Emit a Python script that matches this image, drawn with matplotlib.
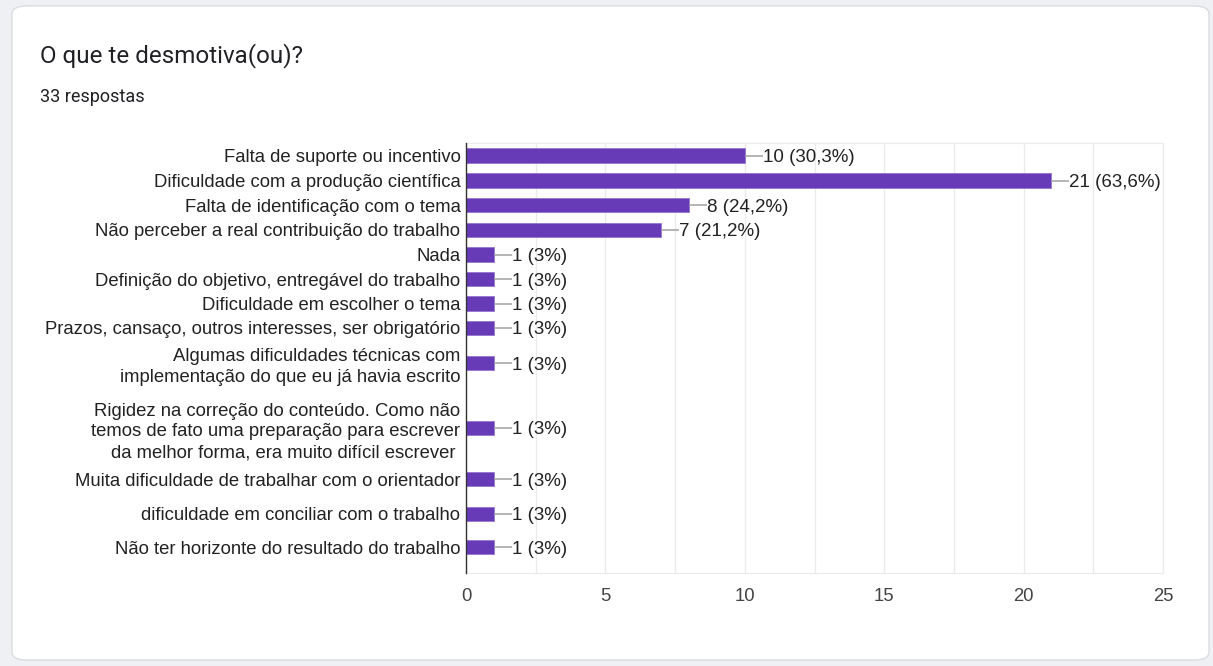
import matplotlib
matplotlib.use("Agg")
import matplotlib.pyplot as plt
from matplotlib.patches import FancyBboxPatch

title = "O que te desmotiva(ou)?"
subtitle = "33 respostas"
categories = [
    "Falta de suporte ou incentivo",
    "Dificuldade com a produção científica",
    "Falta de identificação com o tema",
    "Não perceber a real contribuição do trabalho",
    "Nada",
    "Definição do objetivo, entregável do trabalho",
    "Dificuldade em escolher o tema",
    "Prazos, cansaço, outros interesses, ser obrigatório",
    "Algumas dificuldades técnicas com\nimplementação do que eu já havia escrito",
    "Rigidez na correção do conteúdo. Como não\ntemos de fato uma preparação para escrever\nda melhor forma, era muito difícil escrever ",
    "Muita dificuldade de trabalhar com o orientador",
    "dificuldade em conciliar com o trabalho",
    "Não ter horizonte do resultado do trabalho",
]
counts = [10, 21, 8, 7, 1, 1, 1, 1, 1, 1, 1, 1, 1]
pct_labels = ["30,3%", "63,6%", "24,2%", "21,2%", "3%", "3%", "3%", "3%", "3%", "3%", "3%", "3%", "3%"]
xticks = [0, 5, 10, 15, 20, 25]

# layout (pixel rows of each bar centre, top-down)
W, H = 1213, 666
rows = [155.5, 180.5, 205, 230, 254.5, 279, 303.5, 328, 363, 428, 479, 514, 547]
ax_top, ax_bot, ax_left, ax_right = 143, 573, 466, 1163

fig = plt.figure(figsize=(W / 100, H / 100), dpi=100)
fig.patch.set_facecolor("#eef0f4")
card = FancyBboxPatch((12 / W, 6 / H), 1197 / W, 654 / H,
                      boxstyle="round,pad=0,rounding_size=0.012",
                      transform=fig.transFigure, facecolor="white",
                      edgecolor="#dadce0", linewidth=1.0, zorder=-10)
fig.add_artist(card)

fig.text(40 / W, 1 - 62 / H, title, fontsize=17.4, color="#202124",
         family=["Roboto", "DejaVu Sans"], va="baseline")
fig.text(40 / W, 1 - 102 / H, subtitle, fontsize=13, color="#202124",
         family=["Roboto", "DejaVu Sans"], va="baseline")

ax = fig.add_axes([ax_left / W, 1 - ax_bot / H, (ax_right - ax_left) / W, (ax_bot - ax_top) / H])
ax.set_zorder(5)
ax.set_facecolor("white")
ax.set_xlim(0, 25)
ax.set_ylim(ax_bot, ax_top)

ax.barh(rows, counts, height=14.5, color="#673ab7", edgecolor="#9575cd", linewidth=0.6, zorder=3)

px = 25 / (ax_right - ax_left)
for y, c, p in zip(rows, counts, pct_labels):
    ax.plot([c, c + 18 * px], [y, y], color="#a0a0a0", lw=1.1, zorder=3, solid_capstyle="butt")
    ax.text(c + 18 * px, y, f"{c} ({p})", va="center_baseline", ha="left", fontsize=13.5,
            color="#222222", family=["Liberation Sans", "DejaVu Sans"], zorder=4)

ax.set_yticks(rows)
ax.set_yticklabels(categories, fontsize=13.3, color="#222222",
                   family=["Liberation Sans", "DejaVu Sans"], linespacing=1.3)
ax.tick_params(axis="y", length=0, pad=4)

ax.set_xticks(xticks)
ax.set_xticklabels([str(t) for t in xticks], fontsize=13.3, color="#444444",
                   family=["Liberation Sans", "DejaVu Sans"])
ax.set_xticks([2.5, 7.5, 12.5, 17.5, 22.5], minor=True)
ax.tick_params(axis="x", which="both", length=0, pad=11)
ax.grid(axis="x", which="both", color="#ebebeb", lw=1.0, zorder=0)

for s in ["top", "right", "bottom"]:
    ax.spines[s].set_color("#ebebeb")
ax.spines["left"].set_color("#333333")
ax.spines["left"].set_linewidth(1.0)
ax.spines["left"].set_zorder(5)

fig.savefig("out.png", dpi=100, facecolor=fig.get_facecolor())
